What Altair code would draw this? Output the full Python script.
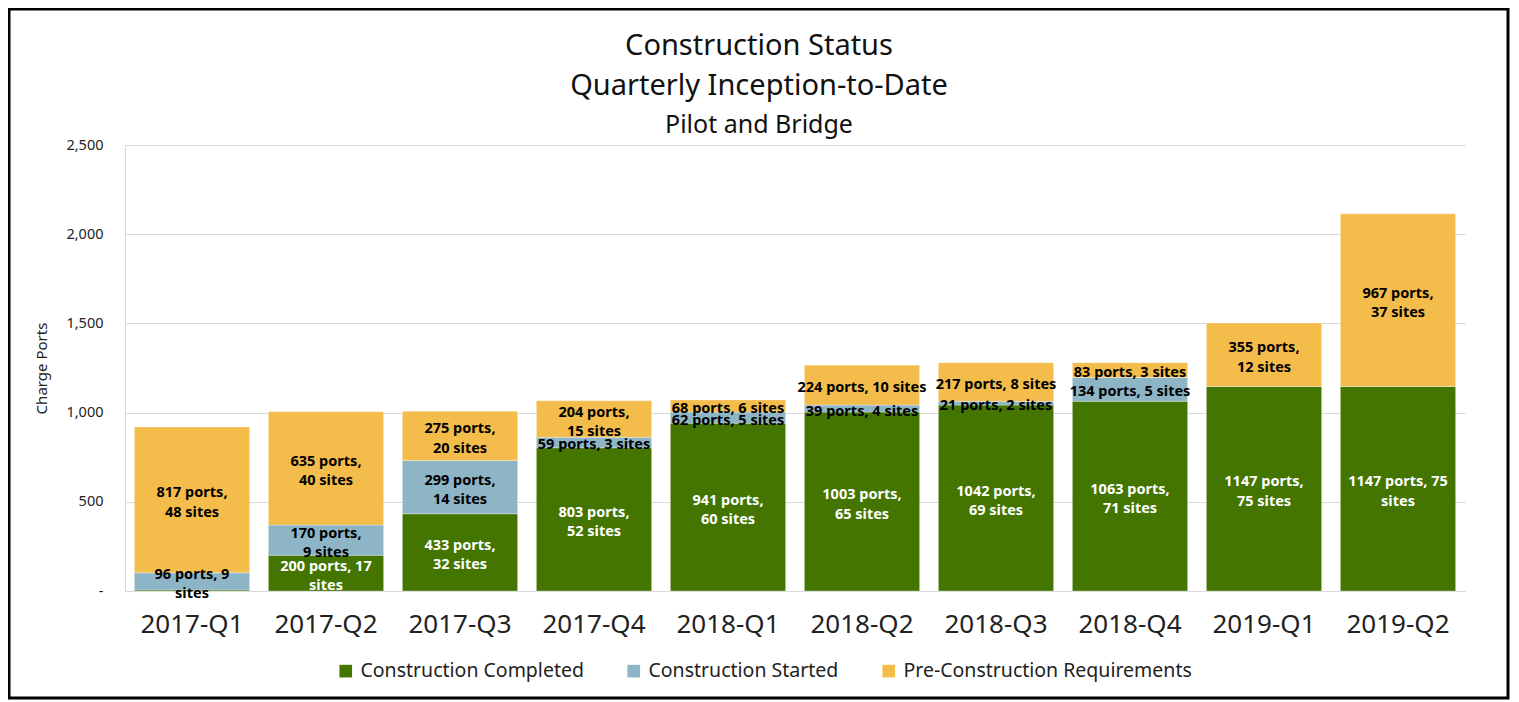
import altair as alt
import pandas as pd

quarters = ["2017-Q1", "2017-Q2", "2017-Q3", "2017-Q4", "2018-Q1",
            "2018-Q2", "2018-Q3", "2018-Q4", "2019-Q1", "2019-Q2"]
statuses = ["Construction Completed", "Construction Started", "Pre-Construction Requirements"]
colors = ["#437500", "#8db5c6", "#f3bc4b"]

completed_ports = [6, 200, 433, 803, 941, 1003, 1042, 1063, 1147, 1147]
started_ports = [96, 170, 299, 59, 62, 39, 21, 134, 0, 0]
pre_ports = [817, 635, 275, 204, 68, 224, 217, 83, 355, 967]

completed_labels = ["", "200 ports, 17\nsites", "433 ports,\n32 sites", "803 ports,\n52 sites",
                    "941 ports,\n60 sites", "1003 ports,\n65 sites", "1042 ports,\n69 sites",
                    "1063 ports,\n71 sites", "1147 ports,\n75 sites", "1147 ports, 75\nsites"]
started_labels = ["96 ports, 9\nsites", "170 ports,\n9 sites", "299 ports,\n14 sites",
                  "59 ports, 3 sites", "62 ports, 5 sites", "39 ports, 4 sites",
                  "21 ports, 2 sites", "134 ports, 5 sites", "", ""]
pre_labels = ["817 ports,\n48 sites", "635 ports,\n40 sites", "275 ports,\n20 sites",
              "204 ports,\n15 sites", "68 ports, 6 sites", "224 ports, 10 sites",
              "217 ports, 8 sites", "83 ports, 3 sites", "355 ports,\n12 sites",
              "967 ports,\n37 sites"]

title_lines = ["Construction Status", "Quarterly Inception-to-Date"]
subtitle_line = "Pilot and Bridge"

rows = []
for i, q in enumerate(quarters):
    for k, (vals, labs) in enumerate([(completed_ports, completed_labels),
                                      (started_ports, started_labels),
                                      (pre_ports, pre_labels)]):
        rows.append({"quarter": q, "status": statuses[k], "order": k,
                     "ports": vals[i], "label": labs[i]})
df = pd.DataFrame(rows)

FONT = "Noto Sans"
yscale = alt.Scale(domain=[0, 2500], nice=False, zero=True)
xscale = alt.Scale(paddingInner=0.14, paddingOuter=0.07)

base = alt.Chart(df).transform_stack(
    stack="ports", as_=["v0", "v1"], groupby=["quarter"],
    sort=[alt.SortField("order", order="ascending")]
).transform_calculate(mid="(datum.v0 + datum.v1) / 2")

bars = base.mark_bar(stroke="white", strokeWidth=0.5, strokeOpacity=0.6).encode(
    x=alt.X("quarter:N", sort=quarters, title=None, scale=xscale,
            axis=alt.Axis(labelAngle=0, labelFontSize=26, labelColor="#222222",
                          labelFont=FONT, ticks=False, domainColor="#d9d9d9",
                          labelPadding=20)),
    y=alt.Y("v0:Q", title="Charge Ports", scale=yscale,
            axis=alt.Axis(values=[0, 500, 1000, 1500, 2000, 2500],
                          labelExpr="datum.value == 0 ? '-' : format(datum.value, ',')",
                          labelFontSize=14.5, labelFont=FONT, labelColor="#222222",
                          labelPadding=22, ticks=False, domainColor="#d9d9d9",
                          gridColor="#d9d9d9", titleFontSize=15, titleFont=FONT,
                          titleFontWeight="normal", titleColor="#222222",
                          titlePadding=16)),
    y2="v1:Q",
    color=alt.Color("status:N", scale=alt.Scale(domain=statuses, range=colors),
                    title=None,
                    legend=alt.Legend(orient="none", direction="horizontal",
                                      legendX=211, legendY=516,
                                      symbolType="square", symbolSize=160,
                                      symbolStrokeWidth=0, labelLimit=500,
                                      labelFontSize=19.5, labelFont=FONT,
                                      labelColor="#222222", columnPadding=40,
                                      labelOffset=5)),
)


def label_layer(multiline):
    cond = "indexof(datum.label, '\\n') >= 0" if multiline else \
        "datum.label != '' && indexof(datum.label, '\\n') < 0"
    return base.transform_filter(cond).mark_text(
        fontWeight="bold", fontSize=14.5, font=FONT, lineBreak="\n", lineHeight=19.5,
        baseline="middle", align="center", dy=-6.5 if multiline else 3
    ).encode(
        x=alt.X("quarter:N", sort=quarters, scale=xscale),
        y=alt.Y("mid:Q", scale=yscale),
        text="label:N",
        color=alt.condition(alt.datum.status == "Construction Completed",
                            alt.value("white"), alt.value("black")),
    )


texts_multi = label_layer(True)
texts_single = label_layer(False)

tdf = pd.DataFrame({"t": [0]})
title1 = alt.Chart(tdf).mark_text(font=FONT, fontSize=29, color="#111111",
                                  align="center", baseline="alphabetic").encode(
    x=alt.value(634), y=alt.value(-90), text=alt.value(title_lines[0]))
title2 = alt.Chart(tdf).mark_text(font=FONT, fontSize=29, color="#111111",
                                  align="center", baseline="alphabetic").encode(
    x=alt.value(634), y=alt.value(-50), text=alt.value(title_lines[1]))
title3 = alt.Chart(tdf).mark_text(font=FONT, fontSize=25, color="#111111",
                                  align="center", baseline="alphabetic").encode(
    x=alt.value(634), y=alt.value(-12), text=alt.value(subtitle_line))

frame = alt.Chart(tdf).mark_rect(
    fillOpacity=0, stroke="black", strokeWidth=3
).encode(x=alt.value(-116), x2=alt.value(1383), y=alt.value(-136), y2=alt.value(553))

chart = alt.layer(bars, texts_multi, texts_single, title1, title2, title3, frame).properties(
    width=1340, height=446,
    background="white",
    autosize=alt.AutoSizeParams(type="none"),
    padding={"left": 117, "top": 137, "right": 46, "bottom": 110},
).configure_view(stroke=None)

chart.save("out.html", embed_options={"renderer": "svg", "actions": False})
